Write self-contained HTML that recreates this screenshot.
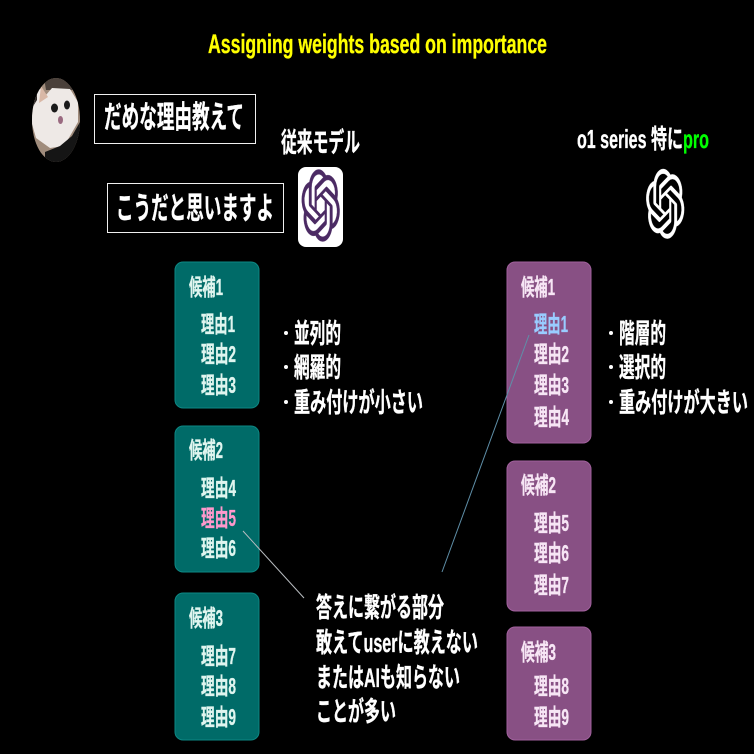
<!DOCTYPE html>
<html><head><meta charset="utf-8"><style>
html,body{margin:0;padding:0;background:#000;width:754px;height:754px;overflow:hidden}
svg{display:block}
text{font-family:"Liberation Sans","Noto Sans CJK JP",sans-serif;font-weight:700;fill:#fff;stroke:#fff;stroke-width:.35px}
.t text{fill:#dff5ef;stroke:#dff5ef;font-size:23px}
.p text{fill:#f7e6f5;stroke:#f7e6f5;font-size:23px}
.b text{font-size:27px}
</style></head><body>
<svg width="754" height="754" viewBox="0 0 754 754" xmlns="http://www.w3.org/2000/svg">
<defs>
<path id="k" d="M22.2819 9.8211a5.9847 5.9847 0 0 0-.5157-4.9108 6.0462 6.0462 0 0 0-6.5098-2.9A6.0651 6.0651 0 0 0 4.9807 4.1818a5.9847 5.9847 0 0 0-3.9977 2.9 6.0462 6.0462 0 0 0 .7427 7.0966 5.98 5.98 0 0 0 .511 4.9107 6.051 6.051 0 0 0 6.5146 2.9001A5.9847 5.9847 0 0 0 13.2599 24a6.0557 6.0557 0 0 0 5.7718-4.2058 5.9894 5.9894 0 0 0 3.9977-2.9001 6.0557 6.0557 0 0 0-.7475-7.0729zm-9.022 12.6081a4.4755 4.4755 0 0 1-2.8764-1.0408l.1419-.0804 4.7783-2.7582a.7948.7948 0 0 0 .3927-.6813v-6.7369l2.02 1.1686a.071.071 0 0 1 .038.052v5.5826a4.504 4.504 0 0 1-4.4945 4.4944zm-9.6607-4.1254a4.4708 4.4708 0 0 1-.5346-3.0137l.142.0852 4.783 2.7582a.7712.7712 0 0 0 .7806 0l5.8428-3.3685v2.3324a.0804.0804 0 0 1-.0332.0615L9.74 19.9502a4.4992 4.4992 0 0 1-6.1408-1.6464zM2.3408 7.8956a4.485 4.485 0 0 1 2.3655-1.9728V11.6a.7664.7664 0 0 0 .3879.6765l5.8144 3.3543-2.0201 1.1685a.0757.0757 0 0 1-.071 0l-4.8303-2.7865A4.504 4.504 0 0 1 2.3408 7.872zm16.5963 3.8558L13.1038 8.364 15.1192 7.2a.0757.0757 0 0 1 .071 0l4.8303 2.7913a4.4944 4.4944 0 0 1-.6765 8.1042v-5.6772a.79.79 0 0 0-.407-.667zm2.0107-3.0231l-.142-.0852-4.7735-2.7818a.7759.7759 0 0 0-.7854 0L9.409 9.2297V6.8974a.0662.0662 0 0 1 .0284-.0615l4.8303-2.7866a4.4992 4.4992 0 0 1 6.6802 4.66zM8.3065 12.863l-2.02-1.1638a.0804.0804 0 0 1-.038-.0567V6.0742a4.4992 4.4992 0 0 1 7.3757-3.4537l-.142.0805L8.704 5.459a.7948.7948 0 0 0-.3927.6813zm1.0976-2.3654l2.602-1.4998 2.6069 1.4998v2.9994l-2.5974 1.4997-2.6067-1.4997Z"/>
<clipPath id="av"><ellipse cx="56" cy="120" rx="24" ry="42"/></clipPath>
</defs>
<rect width="754" height="754" fill="#000"/>
<text x="208" y="53" font-size="27" style="fill:#ffff00;stroke:#ffff00" textLength="339" lengthAdjust="spacingAndGlyphs">Assigning weights based on importance</text>

<!-- avatar -->
<g clip-path="url(#av)">
<rect x="32" y="78" width="48" height="84" fill="#a08c7c"/>
<path d="M44 78H70L74 90H46Z" fill="#4a403a"/>
<path d="M32 108L38 86L46 95L52 88L70 89L78 102L78 122L70 136L64 146L50 148L36 138L32 124Z" fill="#eee9e6"/>
<path d="M39 103L41 86L48 97Z" fill="#d9b8a6"/>
<path d="M32 92L37 90V100L32 108Z" fill="#2e2826"/>
<path d="M45 162V152L60 146L72 136L80 122V162Z" fill="#151515"/>
<path d="M71 78H80V102L76 94Z" fill="#1c1c1c"/>
<ellipse cx="54.5" cy="108" rx="3.5" ry="4.5" fill="#1a1a1a"/>
<ellipse cx="67" cy="105" rx="3" ry="4.5" fill="#1a1a1a"/>
<ellipse cx="60.5" cy="120" rx="2.5" ry="4" fill="#9a6a80"/>
</g>

<!-- speech boxes -->
<rect x="94.5" y="94.5" width="161" height="49" fill="none" stroke="#f0f0f0" stroke-width="1"/>
<text x="104" y="128" font-size="31" textLength="140" lengthAdjust="spacingAndGlyphs">だめな理由教えて</text>
<rect x="107.5" y="183.5" width="176" height="49" fill="none" stroke="#f0f0f0" stroke-width="1"/>
<text x="116" y="219" font-size="31" textLength="158" lengthAdjust="spacingAndGlyphs">こうだと思いますよ</text>

<text x="281" y="152" font-size="27" textLength="79" lengthAdjust="spacingAndGlyphs">従来モデル</text>
<rect x="298" y="167" width="45" height="80" rx="8" fill="#fff"/>
<use href="#k" transform="translate(301.5 169.5) scale(1.6 3)" fill="#4b2a63" stroke="#4b2a63" stroke-width=".15"/>

<text x="577" y="148" font-size="26" textLength="106" lengthAdjust="spacingAndGlyphs">o1 series 特に</text>
<text x="683" y="148" font-size="26" style="fill:#00ff00;stroke:#00ff00" textLength="26" lengthAdjust="spacingAndGlyphs">pro</text>
<use href="#k" transform="translate(646 169) scale(1.6 2.9)" fill="#fff" stroke="#fff" stroke-width=".15"/>

<!-- left boxes -->
<g fill="#006b68" stroke="#0d8783" stroke-width="1">
<rect x="175" y="262" width="84" height="146" rx="8"/>
<rect x="175" y="426" width="84" height="146" rx="8"/>
<rect x="175" y="593" width="84" height="147" rx="8"/>
</g>
<g class="t">
<text x="189" y="295" textLength="34" lengthAdjust="spacingAndGlyphs">候補1</text>
<text x="201" y="332" textLength="34" lengthAdjust="spacingAndGlyphs">理由1</text>
<text x="201" y="362" textLength="35" lengthAdjust="spacingAndGlyphs">理由2</text>
<text x="201" y="393" textLength="35" lengthAdjust="spacingAndGlyphs">理由3</text>
<text x="189" y="458" textLength="34" lengthAdjust="spacingAndGlyphs">候補2</text>
<text x="201" y="496" textLength="35" lengthAdjust="spacingAndGlyphs">理由4</text>
<text x="201" y="526" style="fill:#ff99cc;stroke:#ff99cc" textLength="35" lengthAdjust="spacingAndGlyphs">理由5</text>
<text x="201" y="556" textLength="35" lengthAdjust="spacingAndGlyphs">理由6</text>
<text x="189" y="626" textLength="34" lengthAdjust="spacingAndGlyphs">候補3</text>
<text x="201" y="664" textLength="35" lengthAdjust="spacingAndGlyphs">理由7</text>
<text x="201" y="694" textLength="35" lengthAdjust="spacingAndGlyphs">理由8</text>
<text x="201" y="725" textLength="35" lengthAdjust="spacingAndGlyphs">理由9</text>
</g>

<!-- right boxes -->
<g fill="#885084" stroke="#a0609c" stroke-width="1">
<rect x="507" y="262" width="84" height="181" rx="8"/>
<rect x="507" y="461" width="84" height="150" rx="8"/>
<rect x="507" y="627" width="84" height="113" rx="8"/>
</g>
<g class="p">
<text x="521" y="295" textLength="34" lengthAdjust="spacingAndGlyphs">候補1</text>
<text x="534" y="332" style="fill:#99ccff;stroke:#99ccff" textLength="34" lengthAdjust="spacingAndGlyphs">理由1</text>
<text x="534" y="362" textLength="35" lengthAdjust="spacingAndGlyphs">理由2</text>
<text x="534" y="393" textLength="35" lengthAdjust="spacingAndGlyphs">理由3</text>
<text x="534" y="425" textLength="35" lengthAdjust="spacingAndGlyphs">理由4</text>
<text x="521" y="493" textLength="35" lengthAdjust="spacingAndGlyphs">候補2</text>
<text x="534" y="531" textLength="35" lengthAdjust="spacingAndGlyphs">理由5</text>
<text x="534" y="561" textLength="35" lengthAdjust="spacingAndGlyphs">理由6</text>
<text x="534" y="593" textLength="35" lengthAdjust="spacingAndGlyphs">理由7</text>
<text x="521" y="660" textLength="35" lengthAdjust="spacingAndGlyphs">候補3</text>
<text x="534" y="694" textLength="35" lengthAdjust="spacingAndGlyphs">理由8</text>
<text x="534" y="725" textLength="35" lengthAdjust="spacingAndGlyphs">理由9</text>
</g>

<!-- bullets -->
<g class="b">
<circle cx="286" cy="333" r="2" fill="#fff"/>
<text x="294" y="343" textLength="47" lengthAdjust="spacingAndGlyphs">並列的</text>
<circle cx="286" cy="367" r="2" fill="#fff"/>
<text x="294" y="377" textLength="47" lengthAdjust="spacingAndGlyphs">網羅的</text>
<circle cx="286" cy="402" r="2" fill="#fff"/>
<text x="294" y="412" textLength="129" lengthAdjust="spacingAndGlyphs">重み付けが小さい</text>
<circle cx="611" cy="333" r="2" fill="#fff"/>
<text x="619" y="343" textLength="47" lengthAdjust="spacingAndGlyphs">階層的</text>
<circle cx="611" cy="367" r="2" fill="#fff"/>
<text x="619" y="377" textLength="47" lengthAdjust="spacingAndGlyphs">選択的</text>
<circle cx="611" cy="402" r="2" fill="#fff"/>
<text x="619" y="412" textLength="129" lengthAdjust="spacingAndGlyphs">重み付けが大きい</text>
</g>

<!-- bottom text -->
<g class="b">
<text x="316" y="617" textLength="128" lengthAdjust="spacingAndGlyphs">答えに繋がる部分</text>
<text x="316" y="652" textLength="162" lengthAdjust="spacingAndGlyphs">敢えてuserに教えない</text>
<text x="316" y="687" textLength="144" lengthAdjust="spacingAndGlyphs">またはAIも知らない</text>
<text x="316" y="721" textLength="80" lengthAdjust="spacingAndGlyphs">ことが多い</text>
</g>

<!-- connectors -->
<line x1="243" y1="531" x2="304" y2="598" stroke="#b8bcc0" stroke-width="1"/>
<line x1="529" y1="335" x2="442" y2="572" stroke="#5f8fa8" stroke-width="1"/>
</svg>
</body></html>
